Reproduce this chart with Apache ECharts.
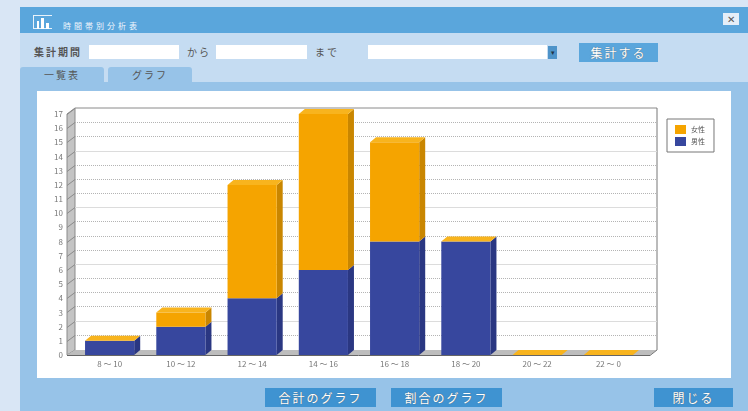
<!DOCTYPE html>
<html lang="ja">
<head>
<meta charset="utf-8">
<title>時間帯別分析表</title>
<script src="https://cdn.jsdelivr.net/npm/echarts@6/dist/echarts.min.js"></script>
<style>
  html, body { margin: 0; padding: 0; }
  body {
    width: 748px; height: 411px; overflow: hidden; position: relative;
    background: #d9e6f5;
    font-family: "Noto Sans CJK JP", "Noto Sans", sans-serif;
    filter: blur(0.7px);
  }
  .box { position: absolute; }
  .txt { position: absolute; color: #555; font-size: 10px; line-height: 14px; white-space: nowrap; text-align: center; }
  .btn { position: absolute; color: #fff; font-size: 12px; letter-spacing: 2px; text-align: center; text-shadow: 0 0 1px #555; }
  #chart { position: absolute; left: 37px; top: 91px; width: 694px; height: 287px; background: #fff; }
</style>
</head>
<body>
  <div class="box" style="left:20px;top:7px;width:728px;height:26px;background:#5aa6dc"></div>
  <div class="box" style="left:20px;top:33px;width:728px;height:49px;background:#c5dcf2"></div>
  <div class="box" style="left:20px;top:82px;width:728px;height:329px;background:#97c3e8"></div>

  <!-- title icon -->
  <div class="box" style="left:33px;top:15px;width:19px;height:14px;border:1px solid #e8f2fa;border-width:1px 0 1px 1px;box-sizing:border-box"></div>
  <div class="box" style="left:37px;top:21px;width:2px;height:8px;background:#fff"></div>
  <div class="box" style="left:41px;top:18px;width:3px;height:11px;background:#fff"></div>
  <div class="box" style="left:46px;top:23px;width:3px;height:6px;background:#fff"></div>
  <div class="txt" style="left:63px;top:19px;color:#f0f6fc;font-size:8px;letter-spacing:3px">時間帯別分析表</div>

  <div class="box" style="left:723px;top:13px;width:16px;height:12px;background:#e4eef8;color:#555;font-size:10px;line-height:12px;text-align:center">✕</div>

  <div class="txt" style="left:34px;top:45px;font-weight:bold;font-size:10px;letter-spacing:2px">集計期間</div>
  <div class="box" style="left:89px;top:45px;width:90px;height:14px;background:#fff"></div>
  <div class="txt" style="left:187px;top:45px;letter-spacing:2px">から</div>
  <div class="box" style="left:216px;top:45px;width:91px;height:14px;background:#fff"></div>
  <div class="txt" style="left:315px;top:45px;letter-spacing:2px">まで</div>
  <div class="box" style="left:368px;top:45px;width:179px;height:14px;background:#fff"></div>
  <div class="box" style="left:548px;top:46px;width:9px;height:13px;background:#4d93c9;color:#234;font-size:7px;line-height:13px;text-align:center">▾</div>
  <div class="btn" style="left:579px;top:43px;width:79px;height:19px;line-height:19px;background:#5aa6dc">集計する</div>

  <div class="box" style="left:20px;top:67px;width:84px;height:15px;background:#97c3e8;border-radius:3px 3px 0 0"></div>
  <div class="box" style="left:108px;top:67px;width:84px;height:15px;background:#97c3e8;border-radius:3px 3px 0 0"></div>
  <div class="txt" style="left:20px;top:68px;width:84px;font-size:10px;letter-spacing:2px">一覧表</div>
  <div class="txt" style="left:108px;top:68px;width:84px;font-size:10px;letter-spacing:2px">グラフ</div>

  <div id="chart"></div>

  <div class="btn" style="left:265px;top:388px;width:111px;height:19px;line-height:19px;background:#3f93d1">合計のグラフ</div>
  <div class="btn" style="left:391px;top:388px;width:111px;height:19px;line-height:19px;background:#3f93d1">割合のグラフ</div>
  <div class="btn" style="left:654px;top:388px;width:79px;height:19px;line-height:19px;background:#3f93d1">閉じる</div>

<script>
  const categories = ["8 〜 10", "10 〜 12", "12 〜 14", "14 〜 16", "16 〜 18", "18 〜 20", "20 〜 22", "22 〜 0"];
  const male = [1, 2, 4, 6, 8, 8, 0, 0];
  const female = [0, 1, 8, 11, 7, 0, 0, 0];
  const yTicks = [1, 2, 3, 4, 5, 6, 7, 8, 9, 10, 11, 12, 13, 14, 15, 16, 17];

  // depth of the fake 3D look
  const dx = 6;
  const dy = 5;

  const myChart = echarts.init(document.getElementById("chart"));

  function poly(points, fill, stroke) {
    return {
      type: "polygon",
      shape: { points: points },
      style: { fill: fill, stroke: stroke || null, lineWidth: 1 },
      silent: true
    };
  }

  function line(x1, y1, x2, y2, color, dash) {
    return {
      type: "line",
      shape: { x1: x1, y1: y1, x2: x2, y2: y2 },
      style: { stroke: color, lineWidth: 1, lineDash: dash || null },
      silent: true
    };
  }

  // left wall, floor, back wall and its grid lines
  function renderWalls(params, api) {
    const cs = params.coordSys;
    const left = cs.x - 7;
    const right = cs.x + cs.width + 12;
    const bottom = cs.y + cs.height;
    const top = cs.y;
    const children = [
      poly([[left, top], [left + 8, top - dy - 1], [left + 8, bottom - dy], [left, bottom]], "#c4c4c4", "#8a8a8a"),
      poly([[left, bottom], [left + 8, bottom - dy], [right + 1, bottom - dy], [right - 6, bottom]], "#bdbdbd"),
      line(left + 8, top - dy - 1, right + 1, top - dy - 1, "#8a8a8a"),
      line(right + 1, top - dy - 1, right + 1, bottom - dy, "#777"),
      line(left, bottom + 0.5, right - 6, bottom + 0.5, "#666"),
      line(right - 6, bottom + 0.5, right + 1, bottom - dy, "#777")
    ];
    yTicks.forEach(function (v) {
      const y = Math.round(api.coord([0, v])[1]) + 0.5;
      if (v < 17) {
        children.push(line(left + 8, y - dy - 1, right + 1, y - dy - 1, v % 4 === 2 ? "#dcdcdc" : "#b4b4b4", v % 4 === 2 ? null : [1, 1]));
      }
      children.push(line(left, y, left + 8, y - dy - 1, "#8a8a8a"));
    });
    return { type: "group", children: children };
  }

  function barRenderer(front, side, topColor) {
    return function (params, api) {
      const base = api.coord([api.value(0), api.value(1)]);
      const end = api.coord([api.value(0), api.value(2)]);
      const w = api.size([1, 0])[0] * 0.69;
      const x0 = base[0] - w / 2;
      const x1 = base[0] + w / 2;
      const children = [
        poly([[x1, base[1]], [x1 + dx, base[1] - dy], [x1 + dx, end[1] - dy], [x1, end[1]]], side),
        poly([[x0, base[1]], [x1, base[1]], [x1, end[1]], [x0, end[1]]], front)
      ];
      if (topColor) {
        children.push(poly([[x0, end[1]], [x0 + dx, end[1] - dy], [x1 + dx, end[1] - dy], [x1, end[1]]], topColor));
      }
      return { type: "group", children: children };
    };
  }

  const maleData = male.map(function (v, i) { return [i, 0, v]; });
  const femaleData = female.map(function (v, i) { return [i, male[i], male[i] + v]; });

  myChart.setOption({
    animation: false,
    legend: {
      left: 630,
      top: 28,
      orient: "vertical",
      icon: "rect",
      data: ["女性", "男性"],
      itemWidth: 11,
      itemHeight: 9,
      itemGap: 3,
      padding: [6, 9, 6, 8],
      borderColor: "#777",
      borderWidth: 1,
      textStyle: { fontSize: 7, color: "#555", fontFamily: "Noto Sans CJK JP" }
    },
    grid: { left: 37, top: 23, width: 570, height: 241 },
    xAxis: {
      type: "category",
      data: categories,
      axisLine: { show: false },
      axisTick: { show: false },
      axisLabel: { fontSize: 8, color: "#777", margin: 5, fontFamily: "Noto Sans CJK JP" }
    },
    yAxis: {
      type: "value",
      min: 0,
      max: 17,
      interval: 1,
      offset: 7,
      axisLine: { show: false },
      axisTick: { show: false },
      splitLine: { show: false },
      axisLabel: { fontSize: 8, color: "#777", margin: 4, padding: [0, 0, 4, 0], fontFamily: "Noto Sans CJK JP" }
    },
    series: [
      {
        name: "walls",
        type: "custom",
        renderItem: renderWalls,
        data: [[0]],
        clip: false,
        silent: true,
        z: 1
      },
      {
        name: "男性",
        type: "custom",
        renderItem: barRenderer("#37479e", "#2a3782"),
        itemStyle: { color: "#37479e" },
        data: maleData,
        encode: { x: 0, y: 2 },
        clip: false,
        z: 2
      },
      {
        name: "女性",
        type: "custom",
        renderItem: barRenderer("#f5a400", "#c98600", "#f8b41e"),
        itemStyle: { color: "#f5a400" },
        data: femaleData,
        encode: { x: 0, y: 2 },
        clip: false,
        z: 3
      }
    ]
  });
</script>
</body>
</html>
